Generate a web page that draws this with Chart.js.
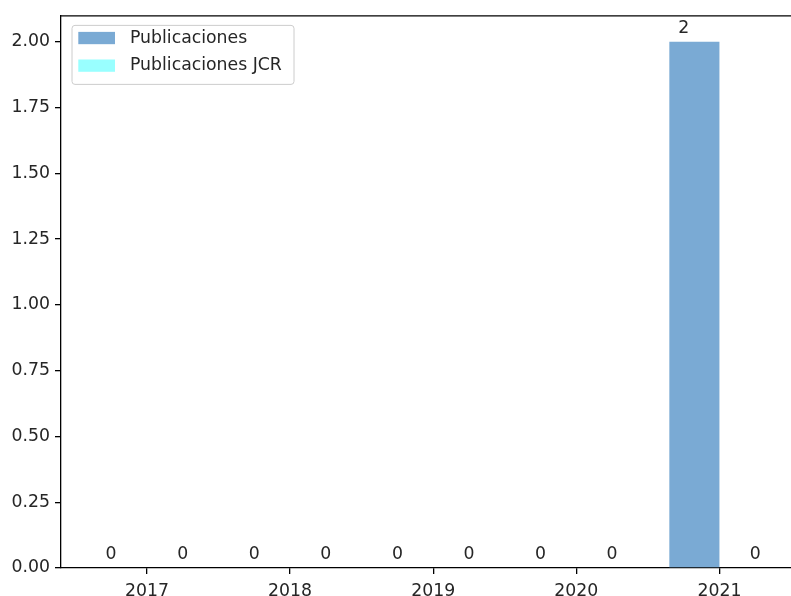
<!DOCTYPE html>
<html>
<head>
<meta charset="utf-8">
<script src="https://cdn.jsdelivr.net/npm/chart.js@4.4.1/dist/chart.umd.min.js"></script>
<style>
    html, body { margin: 0; padding: 0; background: #fff; }
    #wrap { width: 791px; height: 596px; overflow: hidden; }
</style>
</head>
<body>
<div id="wrap"><canvas id="chart" width="791" height="596"></canvas></div>
<script>
// datos
const years = [2017, 2018, 2019, 2020, 2021];
const publicaciones = [0, 0, 0, 0, 2];
const publicacionesJCR = [0, 0, 0, 0, 0];
const yTicks = [0, 0.25, 0.5, 0.75, 1.0, 1.25, 1.5, 1.75, 2.0];

const FONT = { family: 'DejaVu Sans', size: 17.3 };
const INK = '#262626';

// etiquetas encima de las barras, desplazadas un cuarto de año
const barLabels = {
    id: 'barLabels',
    afterDatasetsDraw(chart) {
        const ctx = chart.ctx;
        const x = chart.scales.x, y = chart.scales.y;
        ctx.save();
        ctx.font = FONT.size + 'px ' + FONT.family;
        ctx.fillStyle = INK;
        ctx.textAlign = 'center';
        ctx.textBaseline = 'alphabetic';
        chart.data.datasets.forEach((ds, di) => {
            const shift = di === 0 ? -0.25 : 0.25;
            ds.data.forEach(p => {
                ctx.fillText(String(p.y), x.getPixelForValue(p.x + shift), y.getPixelForValue(p.y) - 9);
            });
        });
        ctx.restore();
    }
};

// marco superior y leyenda
const frame = {
    id: 'frame',
    afterDraw(chart) {
        const ctx = chart.ctx;
        const a = chart.chartArea;
        ctx.save();
        ctx.strokeStyle = '#000';
        ctx.lineWidth = 1.3;
        ctx.beginPath();
        ctx.moveTo(a.left, a.top + 0.5);
        ctx.lineTo(a.right, a.top + 0.5);
        ctx.stroke();

        // leyenda
        const lx = a.left + 10.5, ly = a.top + 9.5, lw = 222, lh = 59;
        ctx.fillStyle = 'rgba(255,255,255,0.8)';
        ctx.strokeStyle = '#cccccc';
        ctx.lineWidth = 1;
        ctx.beginPath();
        ctx.roundRect(lx + 0.5, ly + 0.5, lw, lh, 3);
        ctx.fill();
        ctx.stroke();

        ctx.font = FONT.size + 'px ' + FONT.family;
        ctx.textBaseline = 'middle';
        ctx.textAlign = 'left';
        chart.data.datasets.forEach((ds, i) => {
            const ry = ly + 7 + i * 27.6;
            ctx.fillStyle = ds.backgroundColor;
            ctx.fillRect(lx + 6.8, ry, 36.7, 12.3);
            ctx.fillStyle = INK;
            ctx.fillText(ds.label, lx + 58.5, ry + 6.5);
        });
        ctx.restore();
    }
};

new Chart(document.getElementById('chart'), {
    type: 'bar',
    data: {
        datasets: [{
            label: 'Publicaciones',
            data: years.map((yr, i) => ({ x: yr, y: publicaciones[i] })),
            backgroundColor: 'rgb(122,170,212)',
            borderWidth: 0,
            categoryPercentage: 0.7,
            barPercentage: 1.0
        }, {
            label: 'Publicaciones JCR',
            data: years.map((yr, i) => ({ x: yr, y: publicacionesJCR[i] })),
            backgroundColor: 'rgb(153,255,255)',
            borderWidth: 0,
            categoryPercentage: 0.7,
            barPercentage: 1.0
        }]
    },
    options: {
        responsive: false,
        animation: false,
        layout: { padding: { top: 15, right: 0, bottom: 0, left: 0 } },
        plugins: {
            legend: { display: false },
            tooltip: { enabled: false }
        },
        scales: {
            x: {
                type: 'linear',
                offset: false,
                min: 2016.4,
                max: 2021.5,
                afterBuildTicks: s => { s.ticks = years.map(v => ({ value: v })); },
                afterFit: s => { s.height = 28; },
                grid: { display: true, offset: false, drawOnChartArea: false, drawTicks: true, tickLength: 6, color: '#000', lineWidth: 1.3 },
                border: { display: true, color: '#000', width: 1.3 },
                ticks: { color: INK, font: FONT, padding: 7, maxRotation: 0, callback: v => String(v) }
            },
            y: {
                min: 0,
                max: 2.1,
                afterBuildTicks: s => { s.ticks = yTicks.map(v => ({ value: v })); },
                afterFit: s => { s.width = 61; },
                grid: { display: true, drawOnChartArea: false, drawTicks: true, tickLength: 6, color: '#000', lineWidth: 1.3 },
                border: { display: true, color: '#000', width: 1.3 },
                ticks: { color: INK, font: FONT, padding: 5, callback: v => Number(v).toFixed(2) }
            }
        }
    },
    plugins: [barLabels, frame]
});
</script>
</body>
</html>
